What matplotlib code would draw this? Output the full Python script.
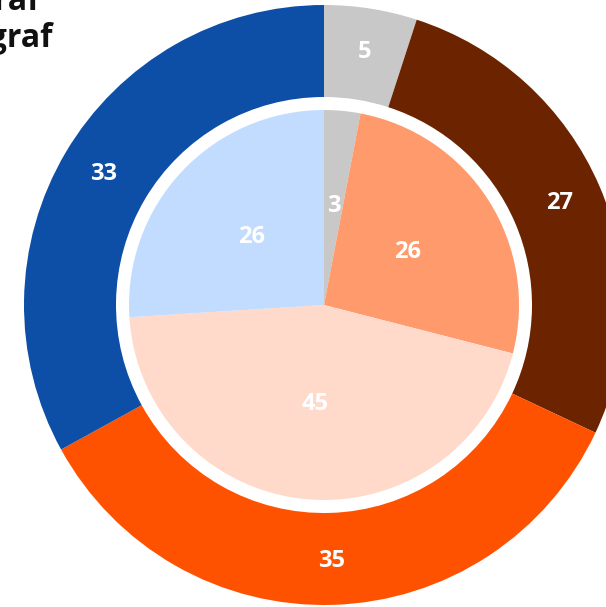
import matplotlib
matplotlib.use("Agg")
import matplotlib.pyplot as plt

# outer ring and inner pie shares, clockwise from 12 o'clock
outer_values = [5, 27, 35, 33]
outer_colors = ["#c8c8c8", "#6b2300", "#ff5200", "#0d4ea6"]
inner_values = [3, 26, 45, 26]
inner_colors = ["#c8c8c8", "#ff9a6c", "#ffdacb", "#c2dcff"]

W, H = 606, 607
fig = plt.figure(figsize=(W / 100, H / 100), dpi=100)
ax = fig.add_axes([0, 0, 1, 1])

cx, cy = 324, H - 305
R_OUT, RING_W, R_IN = 300, 92, 195

label_style = dict(color="white", fontsize=17, fontweight="bold", family="Open Sans")

ax.pie(outer_values, colors=outer_colors, startangle=90, counterclock=False,
       radius=R_OUT, center=(cx, cy), labels=[str(v) for v in outer_values],
       labeldistance=0.855, textprops=dict(ha="center", va="center", **label_style),
       wedgeprops=dict(width=RING_W, linewidth=0))
ax.pie(inner_values, colors=inner_colors, startangle=90, counterclock=False,
       radius=R_IN, center=(cx, cy), labels=[str(v) for v in inner_values],
       labeldistance=0.51, textprops=dict(ha="center", va="center", **label_style),
       wedgeprops=dict(linewidth=0))

ax.set_xlim(0, W)
ax.set_ylim(0, H)
ax.axis("off")

# title, partly running off the canvas edge
title_style = dict(ha="right", va="baseline", fontsize=23, fontweight="bold",
                   family="Open Sans", color="#111111")
fig.text(40 / W, 1 - 10 / H, "Paragraf", **title_style)
fig.text(53 / W, 1 - 47 / H, "Infograf", **title_style)

fig.savefig("out.png", dpi=100)
